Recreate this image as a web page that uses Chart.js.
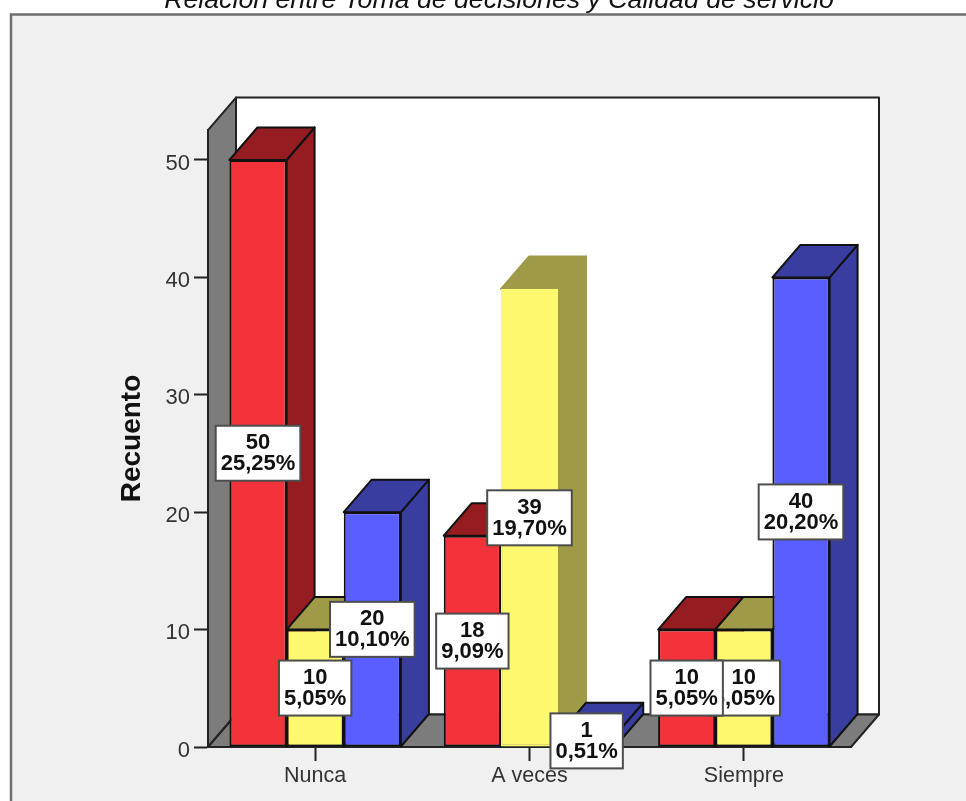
<!DOCTYPE html>
<html lang="es">
<head>
<meta charset="utf-8">
<title>Recuento</title>
<style>
  html, body { margin: 0; height: 100%; overflow: hidden; background: #fff; }
  /* the title's top is cut by the window, so the canvas starts above it */
  #chart { position: absolute; left: 0; top: -15px; }
</style>
<script src="https://cdn.jsdelivr.net/npm/chart.js@4/dist/chart.umd.min.js"></script>
</head>
<body>
<canvas id="chart" width="966" height="816"></canvas>
<script>
const categories = ['Nunca', 'A veces', 'Siempre'];
const redCounts = [50, 18, 10];
const yellowCounts = [10, 39, 10];
const blueCounts = [20, 1, 40];
const redPct = ['25,25%', '9,09%', '5,05%'];
const yellowPct = ['5,05%', '19,70%', '5,05%'];
const bluePct = ['10,10%', '0,51%', '20,20%'];
const yTicks = [0, 10, 20, 30, 40, 50];

const FONT = "'Liberation Sans', Arial, sans-serif";
const EDGE = '#111';
const DEPTH_X = 28;
const DEPTH_Y = 32.5;

function poly(ctx, pts, fill, stroke) {
  ctx.beginPath();
  pts.forEach(([x, y], i) => (i ? ctx.lineTo(x, y) : ctx.moveTo(x, y)));
  ctx.closePath();
  ctx.fillStyle = fill;
  ctx.fill();
  ctx.lineWidth = 2;
  ctx.lineJoin = 'round';
  ctx.strokeStyle = stroke;
  ctx.stroke();
}

// panel background plus the back wall, left wall and floor of the 3D box
const boxPlugin = {
  id: 'box',
  beforeDraw(chart) {
    const { ctx, chartArea: a } = chart;
    const wall = '#7c7c7c';
    ctx.save();
    ctx.fillStyle = '#f0f0f0';
    ctx.fillRect(11, 29.5, chart.width, chart.height);
    ctx.strokeStyle = '#6f6f6f';
    ctx.lineWidth = 2.5;
    ctx.beginPath();
    ctx.moveTo(11, chart.height);
    ctx.lineTo(11, 29.5);
    ctx.lineTo(chart.width, 29.5);
    ctx.stroke();

    const backTop = a.top - DEPTH_Y;
    const backBottom = a.bottom - DEPTH_Y;
    poly(ctx, [[a.left + DEPTH_X, backTop], [a.right + DEPTH_X, backTop], [a.right + DEPTH_X, backBottom], [a.left + DEPTH_X, backBottom]], '#fff', '#222');
    poly(ctx, [[a.left, a.top], [a.left + DEPTH_X, backTop], [a.left + DEPTH_X, backBottom], [a.left, a.bottom]], wall, '#222');
    poly(ctx, [[a.left, a.bottom], [a.right, a.bottom], [a.right + DEPTH_X, backBottom], [a.left + DEPTH_X, backBottom]], wall, '#222');
    ctx.restore();
  },
  // top and side faces go under the library's front faces
  beforeDatasetsDraw(chart) {
    const { ctx } = chart;
    ctx.save();
    chart.data.datasets.forEach((ds, d) => {
      chart.getDatasetMeta(d).data.forEach((bar, i) => {
        const left = bar.x - bar.width / 2;
        const right = bar.x + bar.width / 2;
        const edge = ds.borderColor[i] === EDGE ? EDGE : ds.depthColor;
        poly(ctx, [[right, bar.y], [right + DEPTH_X, bar.y - DEPTH_Y], [right + DEPTH_X, bar.base - DEPTH_Y], [right, bar.base]], ds.depthColor, edge);
        poly(ctx, [[left, bar.y], [left + DEPTH_X, bar.y - DEPTH_Y], [right + DEPTH_X, bar.y - DEPTH_Y], [right, bar.y]], ds.depthColor, edge);
      });
    });
    ctx.restore();
  },
  // count + percentage boxes, last series first so the red ones end up on top
  afterDatasetsDraw(chart) {
    const { ctx } = chart;
    ctx.save();
    ctx.font = `bold 22px ${FONT}`;
    ctx.textAlign = 'center';
    ctx.textBaseline = 'middle';
    for (let d = chart.data.datasets.length - 1; d >= 0; d--) {
      const ds = chart.data.datasets[d];
      chart.getDatasetMeta(d).data.forEach((bar, i) => {
        const lines = [String(ds.data[i]), ds.pct[i]];
        const w = Math.max(...lines.map(t => ctx.measureText(t).width)) + 10;
        const h = 55;
        const cy = (bar.y + bar.base) / 2;
        ctx.fillStyle = '#fff';
        ctx.fillRect(bar.x - w / 2, cy - h / 2, w, h);
        ctx.strokeStyle = '#4d4d4d';
        ctx.lineWidth = 2;
        ctx.strokeRect(bar.x - w / 2, cy - h / 2, w, h);
        ctx.fillStyle = '#111';
        ctx.fillText(lines[0], bar.x, cy - 10);
        ctx.fillText(lines[1], bar.x, cy + 11);
      });
    }
    ctx.restore();
  },
};

new Chart(document.getElementById('chart'), {
  type: 'bar',
  plugins: [boxPlugin],
  data: {
    labels: categories,
    datasets: [
      { data: redCounts, pct: redPct, backgroundColor: '#f3323a', depthColor: '#951c20', borderColor: [EDGE, EDGE, EDGE] },
      { data: yellowCounts, pct: yellowPct, backgroundColor: '#fcf96f', depthColor: '#9e9a48', borderColor: [EDGE, '#fcf96f', EDGE] },
      { data: blueCounts, pct: bluePct, backgroundColor: '#5a5eff', depthColor: '#393d9f', borderColor: [EDGE, EDGE, EDGE] },
    ],
  },
  options: {
    responsive: false,
    animation: false,
    events: [],
    layout: { padding: { left: 32, right: 0, top: 0, bottom: 0 } },
    datasets: { bar: { categoryPercentage: 0.8, barPercentage: 1, borderWidth: 2, borderSkipped: false } },
    plugins: {
      legend: { display: false },
      tooltip: { enabled: false },
      title: {
        display: true,
        text: 'Relación entre Toma de decisiones y Calidad de servicio',
        color: '#111',
        font: { family: FONT, size: 26.7, style: 'italic', weight: 'normal' },
        padding: { top: 0, bottom: 113 },
      },
    },
    scales: {
      x: {
        afterFit: s => { s.height = 54; },
        grid: { offset: false, drawOnChartArea: false, tickLength: 14, tickColor: '#222', tickWidth: 2 },
        border: { color: '#222', width: 2 },
        ticks: { color: '#333', padding: 2, maxRotation: 0, autoSkip: false, font: { family: FONT, size: 21.5 } },
      },
      y: {
        min: 0,
        max: 52.55,
        afterFit: s => { s.width = 176; },
        afterBuildTicks: s => { s.ticks = yTicks.map(value => ({ value })); },
        grid: { drawOnChartArea: false, tickLength: 14, tickColor: '#222', tickWidth: 2 },
        border: { color: '#222', width: 2 },
        ticks: { color: '#333', padding: 4, labelOffset: 3.5, font: { family: FONT, size: 22 } },
        title: {
          display: true,
          text: 'Recuento',
          color: '#111',
          padding: { top: 83, bottom: 0 },
          font: { family: FONT, size: 28, weight: 'bold' },
        },
      },
      // empty margin on the right, keeps the plot left of the centred title
      margin: {
        type: 'linear',
        position: 'right',
        afterFit: s => { s.width = 115; },
        grid: { display: false },
        border: { display: false },
        ticks: { display: false },
      },
    },
  },
});
</script>
</body>
</html>
